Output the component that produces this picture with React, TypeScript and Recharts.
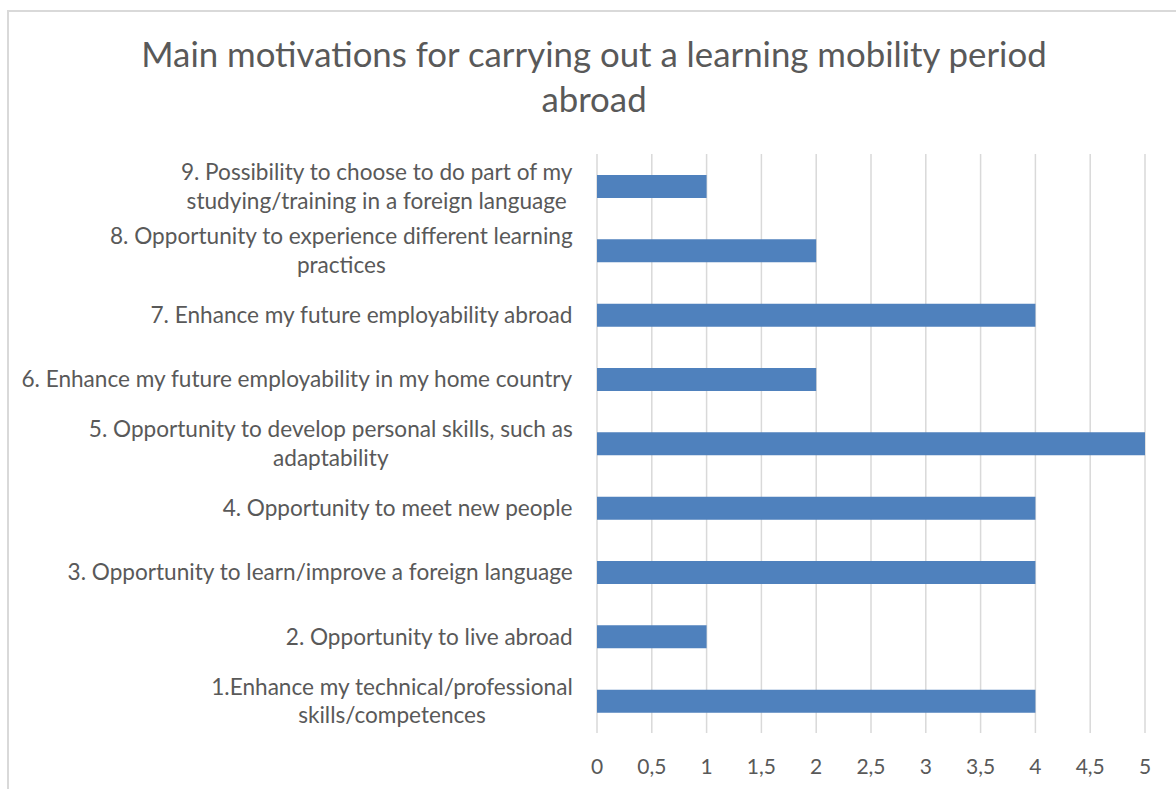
import { Bar, BarChart, CartesianGrid, XAxis, YAxis } from "recharts";

const TITLE_LINES = [
  "Main motivations for carrying out a learning mobility period",
  "abroad",
];

const CATEGORIES = [
  "9. Possibility to choose to do part of my\nstudying/training in a foreign language",
  "8. Opportunity to experience different learning\npractices",
  "7. Enhance my future employability abroad",
  "6. Enhance my future employability in my home country",
  "5. Opportunity to develop personal skills, such as\nadaptability",
  "4. Opportunity to meet new people",
  "3. Opportunity to learn/improve a foreign language",
  "2. Opportunity to live abroad",
  "1.Enhance my technical/professional\nskills/competences",
];

const COUNTS = [1, 2, 4, 2, 5, 4, 4, 1, 4];

const X_TICKS = [0, 0.5, 1, 1.5, 2, 2.5, 3, 3.5, 4, 4.5, 5];

const FONT = "Lato, 'Noto Sans', sans-serif";
const TEXT = "#595959";
const GRID = "#D9D9D9";
const BAR = "#4F81BD";
const LABEL_SIZE = 22.6;
const LINE_H = 28.5;

const data = CATEGORIES.map((name, i) => ({ name, count: COUNTS[i] }));

let ctx: CanvasRenderingContext2D | null = null;
function textWidth(s: string, size: number) {
  if (!ctx) ctx = document.createElement("canvas").getContext("2d");
  if (!ctx) return s.length * size * 0.5;
  ctx.font = `${size}px Lato`;
  return ctx.measureText(s).width;
}

// right-aligned block, lines centred on each other (like Excel's wrapped labels)
function CategoryTick({ x, y, payload }: any) {
  const lines = String(payload.value).split("\n");
  const widest = Math.max(...lines.map((l) => textWidth(l, LABEL_SIZE)));
  const cx = x - widest / 2;
  return (
    <g>
      {lines.map((l, i) => (
        <text
          key={i}
          x={cx}
          y={y + (i - (lines.length - 1) / 2) * LINE_H + LABEL_SIZE * 0.36}
          textAnchor="middle"
          fill={TEXT}
          fontSize={LABEL_SIZE}
          fontFamily={FONT}
        >
          {l}
        </text>
      ))}
    </g>
  );
}

export default function App() {
  return (
    <div
      style={{
        position: "absolute",
        top: 0,
        left: 0,
        width: 1176,
        height: 789,
        overflow: "hidden",
        background: "#fff",
      }}
    >
      <div
        style={{
          position: "absolute",
          left: 7,
          top: 10,
          width: 1200,
          height: 800,
          border: `2px solid ${GRID}`,
          boxSizing: "border-box",
        }}
      />
      <svg
        width={1176}
        height={130}
        style={{ position: "absolute", left: 0, top: 0 }}
      >
        {TITLE_LINES.map((t, i) => (
          <text
            key={i}
            x={594}
            y={67 + i * 45}
            textAnchor="middle"
            fill={TEXT}
            fontSize={34.8}
            fontFamily={FONT}
          >
            {t}
          </text>
        ))}
      </svg>
      <div style={{ position: "absolute", left: 0, top: 0 }}>
        <BarChart
          width={1176}
          height={789}
          data={data}
          layout="vertical"
          margin={{ top: 154, right: 31, bottom: 26, left: 0 }}
        >
          <CartesianGrid horizontal={false} stroke={GRID} strokeWidth={1.5} />
          <XAxis
            type="number"
            domain={[0, 5]}
            ticks={X_TICKS}
            height={30}
            tickLine={false}
            axisLine={false}
            tickSize={0}
            tickMargin={26}
            tick={{ fill: TEXT, fontSize: 21, fontFamily: FONT }}
            tickFormatter={(v) => String(v).replace(".", ",")}
          />
          <YAxis
            type="category"
            dataKey="name"
            width={597}
            interval={0}
            tickLine={false}
            axisLine={false}
            tickSize={0}
            tickMargin={24}
            tick={<CategoryTick />}
          />
          <Bar dataKey="count" fill={BAR} barSize={23} isAnimationActive={false} />
        </BarChart>
      </div>
    </div>
  );
}
